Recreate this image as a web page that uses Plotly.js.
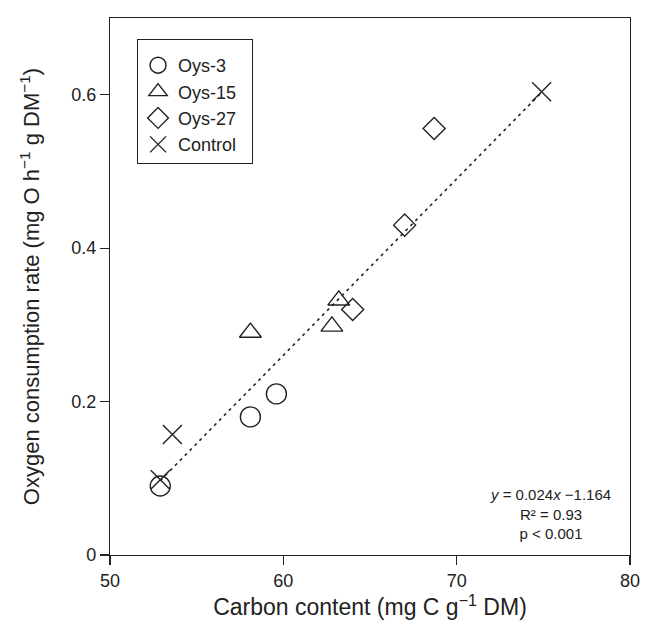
<!DOCTYPE html>
<html>
<head>
<meta charset="utf-8">
<script src="https://cdn.plot.ly/plotly-3.0.1.min.js"></script>
<style>html,body{margin:0;padding:0;background:#fff;} #chart{width:656px;height:635px;}</style>
</head>
<body>
<div id="chart"></div>
<script>
// Data
const seriesNames = ["Oys-3", "Oys-15", "Oys-27", "Control"];
const oys3X = [52.9, 58.1, 59.6];
const oys3Y = [0.090, 0.180, 0.210];
const oys15X = [58.1, 62.8, 63.2];
const oys15Y = [0.290, 0.298, 0.332];
const oys27X = [64.0, 67.0, 68.7];
const oys27Y = [0.320, 0.430, 0.556];
const controlX = [52.9, 53.6, 74.9];
const controlY = [0.098, 0.157, 0.604];
const fitX = [52.9, 74.9];
const fitY = [0.097, 0.603];
const xTicks = [50, 60, 70, 80];
const yTicks = [0, 0.2, 0.4, 0.6];
const yTickText = ["0", "0.2", "0.4", "0.6"];
const statLines = ["<i>y</i> = 0.024<i>x</i> \u22121.164", "R\u00b2 = 0.93", "p &lt; 0.001"];

const ink = "#222";
const pad = "\u00a0\u00a0";
const mk = (sym, size) => ({symbol: sym, size: size, color: ink, line: {color: ink, width: 1.4}});

const traces = [
  {x: fitX, y: fitY, mode: "lines", line: {color: ink, width: 1.6, dash: "3px,4px"}, showlegend: false, hoverinfo: "skip"},
  {x: oys3X, y: oys3Y, mode: "markers", name: seriesNames[0] + pad, marker: mk("circle-open", 20)},
  {x: oys15X, y: oys15Y, mode: "markers", name: seriesNames[1] + pad, marker: mk("triangle-up-open", 19)},
  {x: oys27X, y: oys27Y, mode: "markers", name: seriesNames[2] + pad, marker: mk("diamond-open", 17)},
  {x: controlX, y: controlY, mode: "markers", name: seriesNames[3] + pad, marker: mk("x-thin-open", 19)}
];

const font = "'Liberation Sans', Arial, Helvetica, sans-serif";
const layout = {
  width: 656, height: 635,
  margin: {l: 110, r: 26, t: 18, b: 80},
  paper_bgcolor: "#fff", plot_bgcolor: "#fff",
  font: {family: font, color: ink, size: 16},
  showlegend: true,
  legend: {
    x: 0.052, y: 0.96, xanchor: "left", yanchor: "top",
    bordercolor: ink, borderwidth: 1, bgcolor: "#fff",
    font: {family: font, size: 18, color: ink},
    title: {text: "\u00a0", font: {size: 5, family: font, color: ink}},
    tracegroupgap: 0, itemsizing: "trace"
  },
  xaxis: {
    range: [50, 80], tickvals: xTicks, ticktext: xTicks.map(String),
    ticks: "outside", ticklen: 9, tickwidth: 1.2, tickcolor: ink,
    showline: true, mirror: true, linecolor: ink, linewidth: 1.2,
    showgrid: false, zeroline: false,
    tickfont: {size: 18, family: font, color: ink},
    title: {text: "Carbon content (mg C g<sup>\u22121</sup> DM)", font: {size: 23, family: font, color: ink}, standoff: 7}
  },
  yaxis: {
    range: [0, 0.7], tickvals: yTicks, ticktext: yTickText,
    ticks: "outside", ticklen: 9, tickwidth: 1.2, tickcolor: ink,
    showline: true, mirror: true, linecolor: ink, linewidth: 1.2,
    showgrid: false, zeroline: false,
    tickfont: {size: 18, family: font, color: ink},
    title: {text: "Oxygen consumption rate (mg O h<sup>\u22121</sup> g DM<sup>\u22121</sup>)", font: {size: 22, family: font, color: ink}, standoff: 25}
  },
  annotations: [{
    xref: "paper", yref: "paper", x: 0.848, y: 0.076, xanchor: "center", yanchor: "middle",
    text: statLines.join("<br>"), showarrow: false, align: "center",
    font: {size: 15, family: font, color: ink}
  }]
};

Plotly.newPlot("chart", traces, layout, {displayModeBar: false, staticPlot: true});
</script>
</body>
</html>
